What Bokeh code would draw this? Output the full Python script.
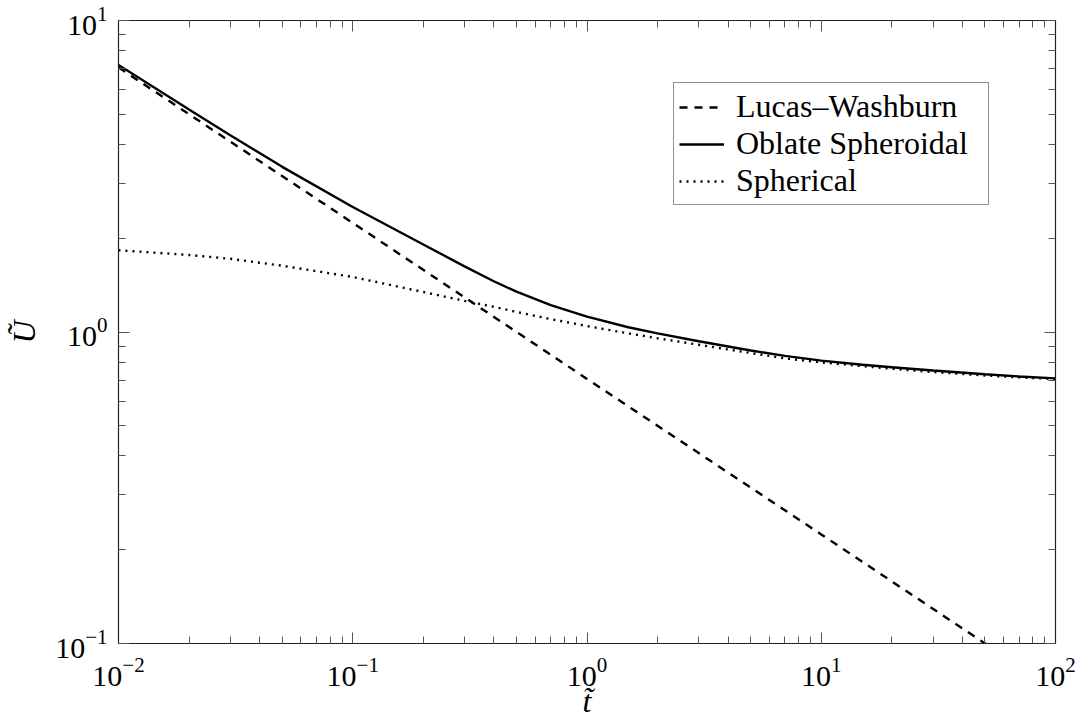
from bokeh.plotting import figure
from bokeh.models import LogAxis, FixedTicker, Legend, LegendItem, Range1d
from bokeh.embed import file_html
from bokeh.resources import INLINE

# ---- data ----
t_vals = [0.01, 0.02, 0.03, 0.05, 0.1, 0.2, 0.3, 0.4, 0.5, 0.7, 1, 1.5, 2, 3, 5, 7,
          10, 15, 20, 30, 50, 70, 100]
u_oblate = [7.2, 5.18, 4.28, 3.39, 2.52, 1.91, 1.625, 1.455, 1.347, 1.22, 1.12, 1.036,
            0.99, 0.934, 0.872, 0.838, 0.809, 0.785, 0.771, 0.752, 0.732, 0.720, 0.710]
u_spherical = [1.83, 1.767, 1.718, 1.632, 1.502, 1.344, 1.259, 1.205, 1.160, 1.10, 1.045,
               0.99, 0.955, 0.910, 0.856, 0.823, 0.799, 0.777, 0.762, 0.744, 0.725,
               0.715, 0.7065]
t_lw = [0.01, 0.1, 1, 10, 100]
u_lw = [7.07, 2.24, 0.707, 0.224, 0.0707]

x_major = [0.01, 0.1, 1, 10, 100]
y_major = [0.1, 1, 10]
series_names = ["Lucas\u2013Washburn", "Oblate Spheroidal", "Spherical"]

def minors(decades):
    out = []
    for d in decades[:-1]:
        out += [d * k for k in range(2, 10)]
    return out

FONT = "Liberation Serif"
AX = "#222222"

p = figure(width=1080, height=721, x_axis_type="log", y_axis_type="log",
           x_range=Range1d(0.01, 100), y_range=Range1d(0.1, 10),
           output_backend="svg", toolbar_location=None,
           min_border_left=118, min_border_right=25, min_border_top=20, min_border_bottom=77)
p.grid.visible = False
p.outline_line_color = None
p.background_fill_color = "white"
p.border_fill_color = "white"

def style(ax, labels=True):
    ax.axis_line_color = AX
    ax.axis_line_width = 1.2
    ax.major_tick_line_color = "#555555"
    ax.minor_tick_line_color = "#555555"
    ax.major_tick_in = 11
    ax.major_tick_out = 0
    ax.minor_tick_in = 7
    ax.minor_tick_out = 0
    ax.major_label_text_font = FONT
    ax.major_label_text_font_size = "30px"
    ax.major_label_text_color = "black"
    ax.major_label_standoff = 11
    if not labels:
        ax.major_label_text_alpha = 0
        ax.major_label_text_font_size = "1px"
        ax.major_label_standoff = 0

p.xaxis.ticker = FixedTicker(ticks=x_major, minor_ticks=minors(x_major))
p.yaxis.ticker = FixedTicker(ticks=y_major, minor_ticks=minors(y_major))
style(p.xaxis[0])
style(p.yaxis[0])
p.xaxis.axis_label = "t\u0303"
p.yaxis.axis_label = "\u0168"
for ax in (p.xaxis[0], p.yaxis[0]):
    ax.axis_label_text_font = FONT
    ax.axis_label_text_font_style = "italic"
    ax.axis_label_text_font_size = "32px"
    ax.axis_label_text_color = "black"
p.xaxis.major_label_standoff = 14
p.xaxis.axis_label_standoff = -6
p.yaxis.axis_label_standoff = 10

top = LogAxis(ticker=FixedTicker(ticks=x_major, minor_ticks=minors(x_major)))
style(top, labels=False)
p.add_layout(top, "above")
right = LogAxis(ticker=FixedTicker(ticks=y_major, minor_ticks=minors(y_major)))
style(right, labels=False)
p.add_layout(right, "right")

r_lw = p.line(t_lw, u_lw, line_color="black", line_width=2.4, line_dash="8 7")
r_ob = p.line(t_vals, u_oblate, line_color="black", line_width=2.4)
r_sp = p.line(t_vals, u_spherical, line_color="black", line_width=2.4, line_dash="2 5")

legend = Legend(items=[LegendItem(label=series_names[0], renderers=[r_lw]),
                       LegendItem(label=series_names[1], renderers=[r_ob]),
                       LegendItem(label=series_names[2], renderers=[r_sp])],
                location=(555, 438))
legend.border_line_color = AX
legend.border_line_width = 1.2
legend.background_fill_alpha = 1
legend.padding = 5
legend.spacing = 0
legend.margin = 0
legend.glyph_width = 45
legend.glyph_height = 30
legend.label_height = 30
legend.label_width = 247
legend.label_standoff = 12
legend.label_text_font = FONT
legend.label_text_font_size = "32px"
legend.label_text_color = "black"
p.add_layout(legend)

open("out.html", "w").write(file_html(p, INLINE))
